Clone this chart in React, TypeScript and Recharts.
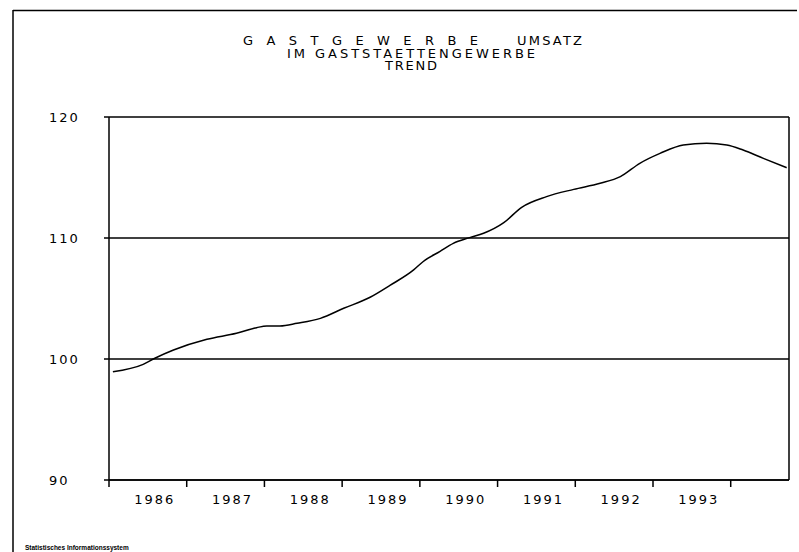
import React from 'react';
import {
  LineChart,
  Line,
  XAxis,
  YAxis,
  CartesianGrid,
  ReferenceLine
} from 'recharts';

// time in decimal years
const times = [
  1986.05, 1986.44, 1986.59, 1986.83, 1987.26, 1987.64, 1987.9, 1988.03,
  1988.2, 1988.42, 1988.72, 1989.02, 1989.36, 1989.62, 1989.92, 1990.04,
  1990.26, 1990.43, 1990.64, 1990.82, 1991.08, 1991.31, 1991.63, 1991.98,
  1992.32, 1992.58, 1992.83, 1993.09, 1993.39, 1993.69, 1993.95, 1994.16,
  1994.42, 1994.72,
];

const trend = [
  98.95, 99.56, 100.06, 100.74, 101.63, 102.12, 102.59, 102.73,
  102.73, 102.95, 103.36, 104.19, 105.1, 106.1, 107.36, 108.04,
  108.9, 109.56, 110.03, 110.39, 111.27, 112.54, 113.42, 114.02,
  114.52, 115.07, 116.17, 116.99, 117.69, 117.83, 117.69, 117.27,
  116.58, 115.81,
];

const years = [1986, 1987, 1988, 1989, 1990, 1991, 1992, 1993];
const yearLabels = ['1986', '1987', '1988', '1989', '1990', '1991', '1992', '1993'];
const yearBounds = [1986, 1987, 1988, 1989, 1990, 1991, 1992, 1993, 1994];
const yTicks = [90, 100, 110, 120];
const xDomain = [1986, 1994.75];

const data = times.map((t, i) => ({ t, v: trend[i] }));
const xTicks = [...yearBounds, ...years.map(y => y + 0.5)].sort((a, b) => a - b);

const FONT = '"DejaVu Sans", sans-serif';

const XTick = (props: any) => {
  const { x, y, payload } = props;
  const val = payload.value;
  if (Number.isInteger(val)) {
    return <line x1={x} x2={x} y1={y} y2={y + 7} stroke="#000" strokeWidth={1.5} />;
  }
  const label = yearLabels[years.indexOf(Math.floor(val))];
  return (
    <text x={x + 7} y={y + 24} textAnchor="middle" fontFamily={FONT} fontSize={13}
      letterSpacing={2} fill="#000">
      {label}
    </text>
  );
};

const YTick = (props: any) => {
  const { x, y, payload } = props;
  return (
    <text x={x - 55} y={y + 5} textAnchor="start" fontFamily={FONT} fontSize={13}
      letterSpacing={2} fill="#000">
      {payload.value}
    </text>
  );
};

export default function App() {
  return (
    <div style={{ position: 'absolute', left: 0, top: 0, width: 799, height: 552, background: '#fff' }}>
      <LineChart
        width={799}
        height={552}
        data={data}
        margin={{ top: 117, right: 10, bottom: 42, left: 0 }}
      >
        <CartesianGrid vertical={false} stroke="#000" strokeWidth={1.5} />
        <XAxis
          dataKey="t"
          type="number"
          domain={xDomain}
          ticks={xTicks}
          interval={0}
          height={30}
          tickSize={0}
          tickMargin={0}
          tickLine={false}
          axisLine={{ stroke: '#000', strokeWidth: 1.5 }}
          tick={<XTick />}
        />
        <YAxis
          type="number"
          domain={[90, 120]}
          ticks={yTicks}
          width={109}
          tickSize={5}
          tickMargin={0}
          tickLine={{ stroke: '#000', strokeWidth: 1.5 }}
          axisLine={{ stroke: '#000', strokeWidth: 1.5 }}
          tick={<YTick />}
        />
        <ReferenceLine x={xDomain[1]} stroke="#000" strokeWidth={1.5} />
        <Line
          type="monotone"
          dataKey="v"
          stroke="#000"
          strokeWidth={1.5}
          dot={false}
          isAnimationActive={false}
        />
      </LineChart>
      <svg width={799} height={552} style={{ position: 'absolute', left: 0, top: 0, pointerEvents: 'none' }}>
        <line x1={13} x2={797} y1={10.5} y2={10.5} stroke="#000" strokeWidth={1.5} />
        <line x1={13} x2={13} y1={10} y2={552} stroke="#000" strokeWidth={1.5} />
        <g fontFamily={FONT} fontSize={13} fill="#000">
          <text x={243} y={45} textLength={235} lengthAdjust="spacing">GASTGEWERBE</text>
          <text x={517} y={45} textLength={65} lengthAdjust="spacing">UMSATZ</text>
          <text x={287} y={58} textLength={248} lengthAdjust="spacing">IM GASTSTAETTENGEWERBE</text>
          <text x={385} y={70} textLength={52} lengthAdjust="spacing">TREND</text>
        </g>
        <text x={25} y={550} fontFamily='"Liberation Sans", sans-serif' fontSize={6.5}
          fontWeight="bold" fill="#000">
          Statistisches Informationssystem
        </text>
      </svg>
    </div>
  );
}
